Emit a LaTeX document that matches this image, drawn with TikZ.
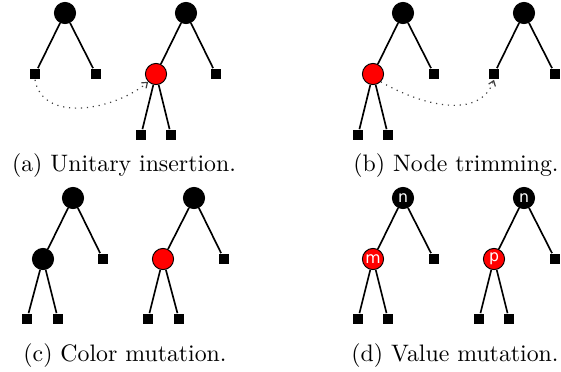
\documentclass[tikz,border=0pt]{standalone}
\usepackage{fontspec}
\newfontfamily\keyfont{DejaVu Sans}
\usetikzlibrary{arrows.meta, positioning}

\begin{document}
\begin{tikzpicture}[x=0.42pt, y=0.42pt,
  bnode/.style={circle, fill=black, draw=black, line width=0.4pt, minimum size=8.9pt, inner sep=0pt, text=white, font=\keyfont\fontsize{6.6}{6.6}\selectfont},
  rnode/.style={bnode, fill=red},
  leaf/.style={rectangle, fill=black, minimum size=4.5pt, inner sep=0pt},
  branch/.style={line width=0.7pt},
  move/.style={dotted, line width=0.5pt, black!75, -{Straight Barb[length=2pt, width=3pt]}},
  caption/.style={anchor=base, font=\normalsize}
]
  \useasboundingbox (0,0) rectangle (561,-371);

  % (a) unitary insertion
  \node[bnode] (a1r) at (65,-13) {};
  \node[leaf] (a1l) at (35,-74) {};
  \node[leaf] (a1q) at (96,-74) {};
  \node[bnode] (a2r) at (186,-13) {};
  \node[rnode] (a2m) at (156,-74) {};
  \node[leaf] (a2q) at (216,-74) {};
  \node[leaf] (a2u) at (141,-135) {};
  \node[leaf] (a2v) at (171,-135) {};
  \draw[move] (a1l.south) to[out=-80, in=-140] (a2m.south west);
  \node[caption] (capa) at (124,-171) {(a) Unitary insertion.};

  % (b) node trimming
  \node[bnode] (b1r) at (403,-13) {};
  \node[rnode] (b1m) at (373,-74) {};
  \node[leaf] (b1q) at (434,-74) {};
  \node[leaf] (b1u) at (358,-135) {};
  \node[leaf] (b1v) at (388,-135) {};
  \node[bnode] (b2r) at (524,-13) {};
  \node[leaf] (b2l) at (494,-74) {};
  \node[leaf] (b2q) at (555,-74) {};
  \draw[move] (b1m.south east) to[out=-30, in=-110] (b2l.south);
  \node[caption] (capb) at (456,-171) {(b) Node trimming.};

  % (c) color mutation
  \node[bnode] (c1r) at (73,-198) {};
  \node[bnode] (c1m) at (43,-259) {};
  \node[leaf] (c1q) at (103,-259) {};
  \node[leaf] (c1u) at (27,-319) {};
  \node[leaf] (c1v) at (58,-319) {};
  \node[bnode] (c2r) at (194,-198) {};
  \node[rnode] (c2m) at (163,-259) {};
  \node[leaf] (c2q) at (224,-259) {};
  \node[leaf] (c2u) at (148,-319) {};
  \node[leaf] (c2v) at (179,-319) {};
  \node[caption] (capc) at (125,-361) {(c) Color mutation.};

  % (d) value mutation
  \node[bnode] (d1r) at (403,-198) {n};
  \node[rnode] (d1m) at (373,-259) {m};
  \node[leaf] (d1q) at (434,-259) {};
  \node[leaf] (d1u) at (358,-319) {};
  \node[leaf] (d1v) at (388,-319) {};
  \node[bnode] (d2r) at (524,-198) {n};
  \node[rnode] (d2m) at (494,-259) {p};
  \node[leaf] (d2q) at (555,-259) {};
  \node[leaf] (d2u) at (479,-319) {};
  \node[leaf] (d2v) at (509,-319) {};
  \node[caption] (capd) at (455,-361) {(d) Value mutation.};

  % branches
  \foreach \p/\c in {a1r/a1l, a1r/a1q, a2r/a2m, a2r/a2q, a2m/a2u, a2m/a2v,
                     b1r/b1m, b1r/b1q, b1m/b1u, b1m/b1v, b2r/b2l, b2r/b2q,
                     c1r/c1m, c1r/c1q, c1m/c1u, c1m/c1v, c2r/c2m, c2r/c2q, c2m/c2u, c2m/c2v,
                     d1r/d1m, d1r/d1q, d1m/d1u, d1m/d1v, d2r/d2m, d2r/d2q, d2m/d2u, d2m/d2v}
    \draw[branch] (\p) -- (\c);
\end{tikzpicture}
\end{document}
